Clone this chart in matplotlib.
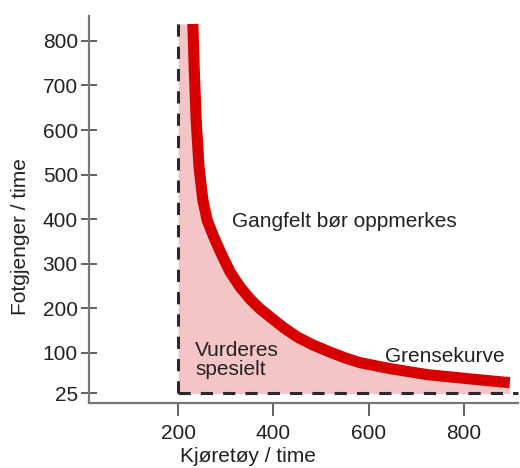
import numpy as np
import matplotlib
matplotlib.use('Agg')
import matplotlib.pyplot as plt

plt.rcParams['font.family'] = ['Liberation Sans', 'DejaVu Sans']

# grenseverdier (stiplede linjer)
min_kjoretoy = 200
min_fotgjengere = 25

# grensekurve, lest av figuren
kurve_x = [231, 234, 238, 244, 252, 261, 275, 290, 309, 330, 351, 372, 393, 420,
           450, 483, 519, 550, 582, 645, 722, 812, 896]
kurve_y = [838, 735, 623, 517, 443, 398, 360, 324, 282, 248, 221, 199, 181, 158,
           136, 118, 102, 91, 82, 71, 60, 52, 45]

x_ticks = [200, 400, 600, 800]
y_ticks = [25, 100, 200, 300, 400, 500, 600, 700, 800]

# y-aksen er strukket under 100
k = 1.21
def fram(y):
    y = np.asarray(y, dtype=float)
    return np.where(y >= 100, y, 100 - (100 - y) * k)
def tilbake(u):
    u = np.asarray(u, dtype=float)
    return np.where(u >= 100, u, 100 - (100 - u) / k)

fig = plt.figure(figsize=(5.2, 4.68), dpi=100)
ax = fig.add_axes([0.171, 0.139, 0.825, 0.827])
ax.set_yscale('function', functions=(fram, tilbake))
ax.set_xlim(13, 913)
ax.set_ylim(7.4, 856)

tekst = '#222222'
ax.fill_between([min_kjoretoy] + kurve_x, [kurve_y[0]] + kurve_y, min_fotgjengere,
                color='#f3c5c7', lw=0, zorder=1)
ax.plot(kurve_x, kurve_y, color='#d60000', lw=8, solid_capstyle='butt',
        solid_joinstyle='round', zorder=3)

ax.plot([min_kjoretoy, min_kjoretoy], [min_fotgjengere, 856], color='#2a2a2a',
        lw=2.2, dashes=(4, 3.3), zorder=2, clip_on=False)
ax.plot([min_kjoretoy, 913], [min_fotgjengere, min_fotgjengere], color='#2a2a2a',
        lw=2.2, dashes=(4, 3.3), zorder=2, clip_on=False)

ax.text(313, 394, 'Gangfelt bør oppmerkes', fontsize=15, color=tekst, va='center')
ax.text(236, 87, 'Vurderes\nspesielt', fontsize=15, color=tekst, va='center',
        linespacing=0.95)
ax.text(634, 93, 'Grensekurve', fontsize=15, color=tekst, va='center')

ax.set_xticks(x_ticks)
ax.set_yticks(y_ticks)
ax.set_yticklabels([str(v) for v in y_ticks])
ax.minorticks_off()
ax.tick_params(axis='y', direction='inout', length=12, width=1.3, color='#555555',
               labelsize=15, labelcolor=tekst, pad=2)
ax.tick_params(axis='x', direction='out', length=9, width=1.3, color='#555555',
               labelsize=15, labelcolor=tekst, pad=6)

for s in ['top', 'right']:
    ax.spines[s].set_visible(False)
for s in ['left', 'bottom']:
    ax.spines[s].set_color('#777777')
    ax.spines[s].set_linewidth(1.6)

ax.set_xlabel('Kjøretøy / time', fontsize=15, color=tekst)
ax.set_ylabel('Fotgjenger / time', fontsize=15, color=tekst)
ax.xaxis.set_label_coords(0.371, -0.115)
ax.yaxis.set_label_coords(-0.137, 0.43)

fig.savefig('out.png', dpi=100)
